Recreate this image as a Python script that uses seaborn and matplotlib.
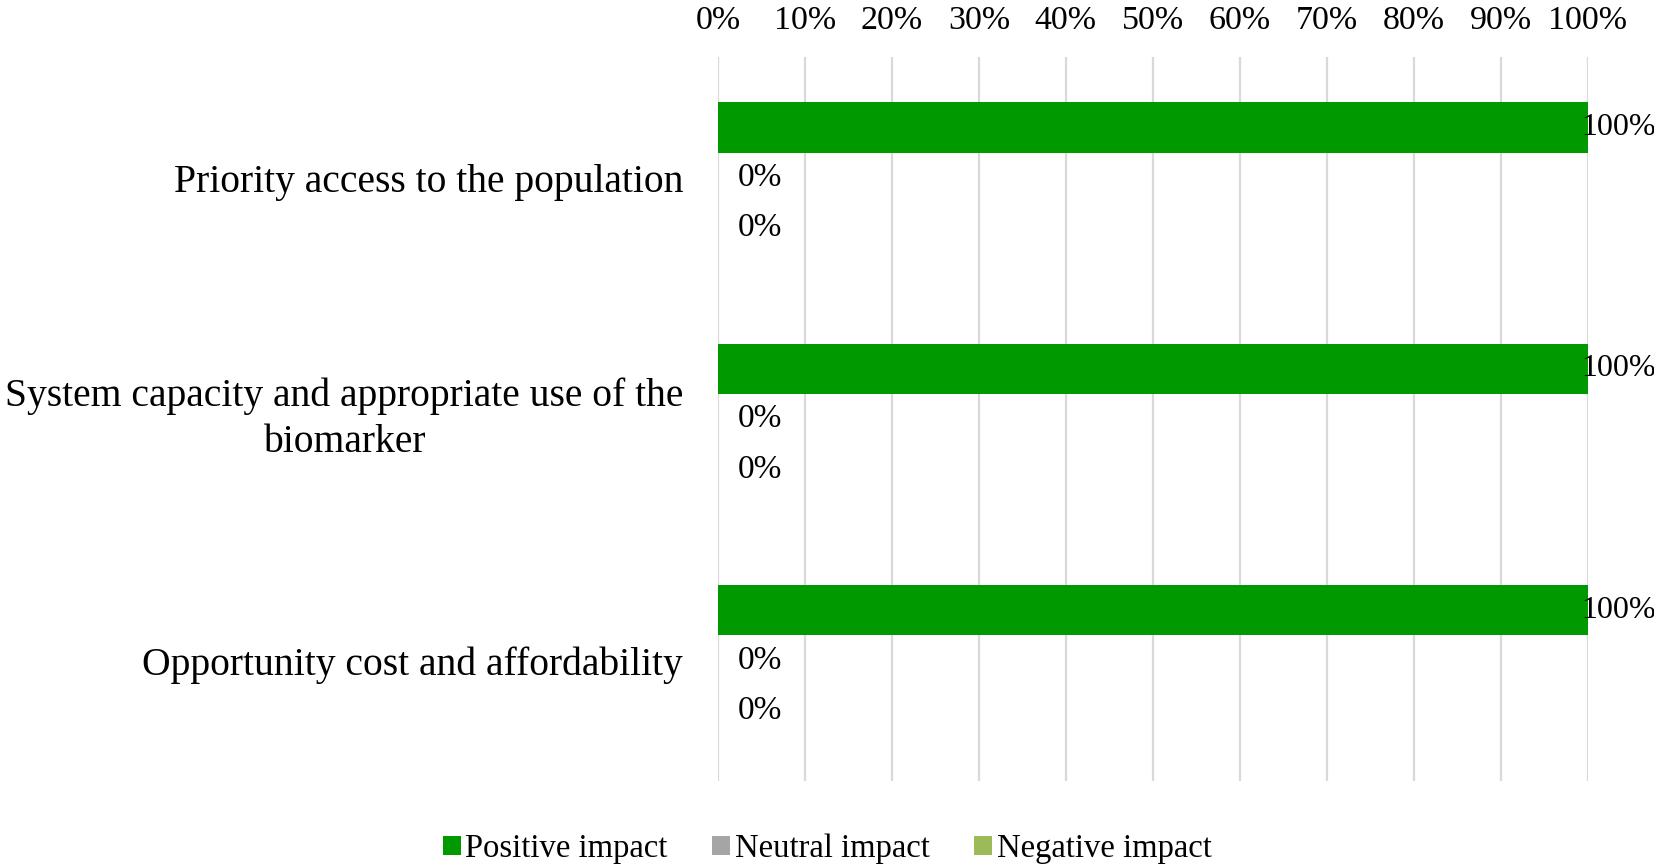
import matplotlib
matplotlib.use('Agg')
import numpy as np
import pandas as pd
import matplotlib.pyplot as plt
from matplotlib.ticker import PercentFormatter
import seaborn as sns

criteria = ['Priority access to the population',
            'System capacity and appropriate use of the\nbiomarker',
            'Opportunity cost and affordability']
impacts = ['Positive impact', 'Neutral impact', 'Negative impact']
positive = [1.0, 1.0, 1.0]
neutral = [0.0, 0.0, 0.0]
negative = [0.0, 0.0, 0.0]
colors = ['#009900', '#A5A5A5', '#9BBB59']

df = pd.DataFrame({
    'criterion': criteria * 3,
    'impact': [impacts[0]] * 3 + [impacts[1]] * 3 + [impacts[2]] * 3,
    'value': positive + neutral + negative,
})

sns.set_theme(style='white')
plt.rcParams['font.family'] = ['Liberation Serif', 'DejaVu Serif']
plt.rcParams['text.color'] = 'black'

fig = plt.figure(figsize=(16.54, 8.67), dpi=100)
ax = fig.add_axes([0.434, 0.099, 0.526, 0.835])

sns.barplot(data=df, x='value', y='criterion', hue='impact', hue_order=impacts,
            palette=colors, width=0.625, orient='h', saturation=1,
            linewidth=0, ax=ax)

ax.set_xlim(0, 1)
ax.set_ylim(2.5, -0.5)
ax.set_xticks(np.arange(0, 1.01, 0.1))
ax.xaxis.set_major_formatter(PercentFormatter(1.0, decimals=0))
ax.xaxis.tick_top()
ax.tick_params(axis='x', length=0, pad=15, labelsize=24.5, colors='black')
ax.tick_params(axis='y', length=0, pad=25, labelsize=28.5, colors='black')
for lab in ax.get_yticklabels():
    lab.set_multialignment('center')
    lab.set_linespacing(1.3)
    if '\n' in lab.get_text():
        lab.set_verticalalignment('center')
ax.set_xlabel('')
ax.set_ylabel('')
ax.grid(axis='x', color='#D9D9D9', linewidth=1.6)
ax.set_axisbelow(True)
for s in ax.spines.values():
    s.set_visible(False)

# data labels
for i, cont in enumerate(ax.containers):
    if i == 0:
        ax.bar_label(cont, fmt='{:.0%}', padding=-5, fontsize=23, color='black')
    else:
        ax.bar_label(cont, fmt='{:.0%}', padding=14, fontsize=24, color='black')

old = ax.get_legend()
handles = old.legend_handles
labels = [t.get_text() for t in old.get_texts()]
old.remove()
fig.legend(handles, labels, loc='center', bbox_to_anchor=(0.5, 0.021),
           ncol=3, frameon=False, fontsize=23.5, handlelength=0.55,
           handleheight=0.55, handletextpad=0.15, columnspacing=1.35,
           labelcolor='black')

fig.savefig('out.png', dpi=100)
